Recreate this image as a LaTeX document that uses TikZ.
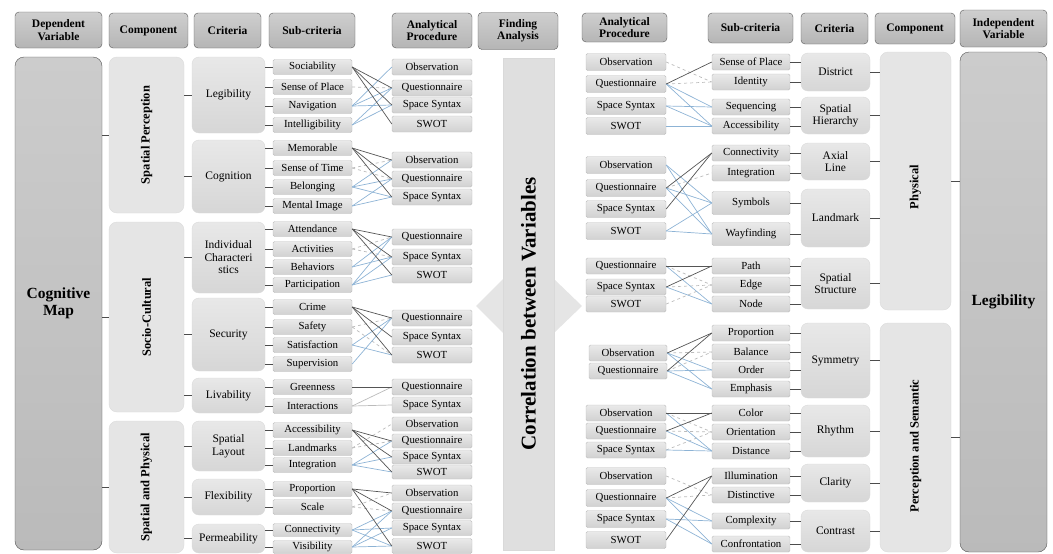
\documentclass[tikz,border=0pt]{standalone}
\usepackage{fontspec}
\setmainfont{Liberation Serif}
\definecolor{lineblue}{HTML}{8DB3D5}
\definecolor{linedark}{HTML}{555555}
\definecolor{linegray}{HTML}{BBBBBB}
\tikzset{
  hdr/.style={draw=gray!70!black,rounded corners=4pt,top color=gray!38,bottom color=gray!58,
    align=center,inner sep=0pt,font=\bfseries\fontsize{11.5}{12.5}\selectfont},
  varbox/.style={draw=gray!65!black,rounded corners=9pt,top color=gray!40,bottom color=gray!54,
    inner sep=0pt,align=center,font=\bfseries\fontsize{15.5}{17}\selectfont},
  compbox/.style={draw=gray!28,rounded corners=8pt,fill=gray!20,inner sep=0pt},
  complab/.style={rotate=90,font=\bfseries\fontsize{12.5}{13}\selectfont},
  critbox/.style={draw=gray!30,rounded corners=7pt,top color=gray!18,bottom color=gray!32,
    inner sep=0pt,align=center,font=\fontsize{11.5}{12.5}\selectfont},
  subbox/.style={draw=gray!52,rounded corners=1.5pt,top color=gray!17,bottom color=gray!36,
    inner sep=0pt,font=\fontsize{10.8}{11}\selectfont},
  tree/.style={draw=gray!60!black,line width=0.6pt},
  dk/.style={draw=linedark,line width=0.7pt},
  bl/.style={draw=lineblue,line width=0.7pt},
  ds/.style={draw=linegray,line width=0.7pt,dashed},
  lg/.style={draw=linegray,line width=0.7pt}
}
\begin{document}
\begin{tikzpicture}[x=1pt,y=-1pt]
\useasboundingbox (0,0) rectangle (1053,554);
% headers
\node[hdr,minimum width=87pt,minimum height=36pt] (hDep) at (58.5,30) {Dependent\\Variable};
\node[hdr,minimum width=79pt,minimum height=35pt] (hCom) at (148.5,30.5) {Component};
\node[hdr,minimum width=67pt,minimum height=35pt] (hCri) at (227.5,30.5) {Criteria};
\node[hdr,minimum width=86pt,minimum height=35pt] (hSub) at (312,30.5) {Sub-criteria};
\node[hdr,minimum width=80pt,minimum height=35pt] (hAna) at (432,30.5) {Analytical\\Procedure};
\node[hdr,minimum width=80pt,minimum height=37pt] (hFin) at (518,31) {Finding\\Analysis};
\node[hdr,minimum width=85pt,minimum height=29pt] (hAnaR) at (624.5,27.5) {Analytical\\Procedure};
\node[hdr,minimum width=85pt,minimum height=30pt] (hSubR) at (750.5,28) {Sub-criteria};
\node[hdr,minimum width=67pt,minimum height=31pt] (hCriR) at (834.5,28.5) {Criteria};
\node[hdr,minimum width=80pt,minimum height=31pt] (hComR) at (915,28.5) {Component};
\node[hdr,minimum width=87pt,minimum height=37pt] (hInd) at (1003.5,28.5) {Independent\\Variable};

% centre: correlation
\fill[gray!20] (476,306) -- (503,279) -- (554,279) -- (582,306) -- (554,333) -- (503,333) -- cycle;
\node[draw=gray!30,fill=gray!25,minimum width=51pt,minimum height=492pt] (bCor) at (528.5,304) {};
\node[rotate=90,font=\bfseries\fontsize{21}{23}\selectfont] (tCor) at (528.5,314) {Correlation between Variables};

% dependent side
\node[varbox,minimum width=87pt,minimum height=493pt] (vCog) at (58.5,303.5) {Cognitive\\Map};
\node[compbox,minimum width=75pt,minimum height=156pt] (kSP) at (146.5,135) {};
\node[complab] (tSP) at (kSP) {Spatial Perception};
\node[compbox,minimum width=75pt,minimum height=190pt] (kSC) at (146.5,317) {};
\node[complab] (tSC) at (kSC) {Socio-Cultural};
\node[compbox,minimum width=75pt,minimum height=132pt] (kSPh) at (146.5,487) {};
\node[complab] (tSPh) at (kSPh) {Spatial and Physical};

\foreach \n/\y/\h/\t in {cLeg/95/76/Legibility, cCog/176.5/73/Cognition,
    cInd/257.5/71/{Individual\\Characteri\\stics}, cSec/334.5/73/Security,
    cLiv/395.5/35/Livability, cLay/446/50/{Spatial\\Layout},
    cFle/497/36/Flexibility, cPer/538.5/29/Permeability}
  \node[critbox,minimum width=73pt,minimum height=\h pt] (\n) at (228.5,\y) {\t};

\foreach \n/\y/\t in {lSoc/67/Sociability, lSoP/87/Sense of Place, lNav/106/Navigation,
    lInt/125/Intelligibility, lMem/148/Memorable, lSoT/168/Sense of Time,
    lBel/187/Belonging, lMen/206/Mental Image, lAtt/229/Attendance,
    lAct/249/Activities, lBeh/267/Behaviors, lPar/285/Participation,
    lCri/307/Crime, lSaf/327/Safety, lSat/345/Satisfaction, lSup/364/Supervision,
    lGre/387/Greenness, lInr/406/Interactions, lAcc/430/Accessibility,
    lLan/448/Landmarks, lItg/465/Integration, lPro/489/Proportion, lSca/507/Scale}
  \node[subbox,minimum width=79pt,minimum height=15pt] (\n) at (312.5,\y) {\t};
\node[subbox,minimum width=79pt,minimum height=13pt] (lCon) at (312.5,530) {Connectivity};
\node[subbox,minimum width=79pt,minimum height=13pt] (lVis) at (312.5,547) {Visibility};

\foreach \n/\y/\h/\t in {p1o/67/16/Observation, p1q/88/16/Questionnaire, p1s/105/16/Space Syntax,
    p1w/124/16/SWOT, p2o/160/16/Observation, p2q/179/16/Questionnaire, p2s/197/16/Space Syntax,
    p3q/237/16/Questionnaire, p3s/257/16/Space Syntax, p3w/275/16/SWOT,
    p4q/318/16/Questionnaire, p4s/337/16/Space Syntax, p4w/355/16/SWOT,
    p5q/387/16/Questionnaire, p5s/405/16/Space Syntax,
    p6o/424/14/Observation, p6q/441/14/Questionnaire, p6s/457/14/Space Syntax, p6w/472/14/SWOT,
    p7o/493/16/Observation, p7q/511/16/Questionnaire, p7s/528/15/Space Syntax, p7w/546/15/SWOT}
  \node[subbox,minimum width=80pt,minimum height=\h pt] (\n) at (432,\y) {\t};

% independent side
\node[varbox,minimum width=87pt,minimum height=500pt] (vLeg) at (1003.5,302) {Legibility};
\node[compbox,minimum width=71pt,minimum height=258pt] (kPhy) at (915.5,181) {};
\node[complab] (tPhy) at (915.5,187) {Physical};
\node[compbox,minimum width=71pt,minimum height=229pt] (kPer) at (915.5,437.5) {};
\node[complab] (tPer) at (915.5,446) {Perception and Semantic};

\foreach \n/\y/\h/\t in {dDis/72/38/District, dHie/115.5/37/{Spatial\\Hierarchy},
    dAxi/161.5/37/{Axial\\Line}, dLan/218/58/Landmark, dStr/283.5/51/{Spatial\\Structure},
    dSym/360.5/75/Symmetry, dRhy/431/52/Rhythm, dCla/483/38/Clarity, dCon/531/42/Contrast}
  \node[critbox,minimum width=69pt,minimum height=\h pt] (\n) at (835.5,\y) {\t};

\foreach \n/\y/\h/\t in {rSoP/62/16/Sense of Place, rIde/82/16/Identity, rSeq/107/16/Sequencing,
    rAcc/126/16/Accessibility, rCon/153/16/Connectivity, rItg/173/16/Integration,
    rSym/203/23/Symbols, rWay/234/23/Wayfinding, rPat/266/16/Path, rEdg/285/16/Edge,
    rNod/304/16/Node, rPro/333/16/Proportion, rBal/352/16/Balance, rOrd/370/16/Order,
    rEmp/389/16/Emphasis, rCol/413/16/Color, rOri/432/16/Orientation, rDis/451/16/Distance,
    rIll/476/16/Illumination, rDst/495/16/Distinctive, rCom/521/16/Complexity,
    rCnf/544/16/Confrontation}
  \node[subbox,minimum width=78pt,minimum height=\h pt] (\n) at (751,\y) {\t};

\foreach \n/\y/\h/\t in {q1o/62/17/Observation, q1q/84/17/Questionnaire, q1s/106/17/Space Syntax,
    q1w/126/17/SWOT, q2o/165/17/Observation, q2q/188/17/Questionnaire, q2s/209/17/Space Syntax,
    q2w/231/17/SWOT, q3q/266/16/Questionnaire, q3s/287/16/Space Syntax, q3w/304/16/SWOT,
    q5o/413/16/Observation, q5q/431/16/Questionnaire, q5s/450/16/Space Syntax,
    q6o/476/17/Observation, q6q/498/17/Questionnaire, q6s/519/17/Space Syntax, q6w/540/17/SWOT}
  \node[subbox,minimum width=80pt,minimum height=\h pt] (\n) at (626,\y) {\t};
\node[subbox,minimum width=78pt,minimum height=16pt] (q4o) at (628,353) {Observation};
\node[subbox,minimum width=78pt,minimum height=16pt] (q4q) at (628,371) {Questionnaire};

% tree lines
\foreach \k in {kSP,kSC,kSPh} \draw[tree] (\k.west) -- (\k.west -| vCog.east);
\foreach \c/\k in {cLeg/kSP,cCog/kSP,cInd/kSC,cSec/kSC,cLiv/kSC,cLay/kSPh,cFle/kSPh,cPer/kSPh}
  \draw[tree] (\c.west) -- (\c.west -| \k.east);
\foreach \s/\c in {lSoc/cLeg,lSoP/cLeg,lNav/cLeg,lInt/cLeg,lMem/cCog,lSoT/cCog,lBel/cCog,lMen/cCog,
    lAtt/cInd,lAct/cInd,lBeh/cInd,lPar/cInd,lCri/cSec,lSaf/cSec,lSat/cSec,lSup/cSec,
    lGre/cLiv,lInr/cLiv,lAcc/cLay,lLan/cLay,lItg/cLay,lPro/cFle,lSca/cFle,lCon/cPer,lVis/cPer}
  \draw[tree] (\s.west) -- (\s.west -| \c.east);
\foreach \k in {kPhy,kPer} \draw[tree] (\k.east) -- (\k.east -| vLeg.west);
\foreach \c/\k in {dDis/kPhy,dHie/kPhy,dAxi/kPhy,dLan/kPhy,dStr/kPhy,dSym/kPer,dRhy/kPer,dCla/kPer,dCon/kPer}
  \draw[tree] (\c.east) -- (\c.east -| \k.west);
\foreach \s/\c in {rSoP/dDis,rIde/dDis,rSeq/dHie,rAcc/dHie,rCon/dAxi,rItg/dAxi,rSym/dLan,rWay/dLan,
    rPat/dStr,rEdg/dStr,rNod/dStr,rPro/dSym,rBal/dSym,rOrd/dSym,rEmp/dSym,rCol/dRhy,rOri/dRhy,
    rDis/dRhy,rIll/dCla,rDst/dCla,rCom/dCon,rCnf/dCon}
  \draw[tree] (\s.east) -- (\s.east -| \c.west);

% links, left
\foreach \a/\b in {lSoP/p1q,lSoT/p2o,lSoT/p2q,lAct/p3q,lAct/p3s,lSaf/p4q,lSaf/p4w,
    lLan/p6o,lLan/p6q,lSca/p7o,lSca/p7q}
  \draw[ds] (\a.east) -- (\b.west);
\foreach \a/\b in {lInr/p5q,lInr/p5s} \draw[lg] (\a.east) -- (\b.west);
\foreach \a/\b in {lNav/p1o,lNav/p1q,lNav/p1s,lInt/p1q,lInt/p1s,lBel/p2o,lBel/p2q,lBel/p2s,
    lMen/p2q,lMen/p2s,lBeh/p3q,lBeh/p3s,lPar/p3q,lPar/p3s,lPar/p3w,lSat/p4q,lSat/p4w,lSup/p4q,
    lItg/p6q,lItg/p6s,lItg/p6w,lCon/p7q,lCon/p7s,lCon/p7w,lVis/p7q,lVis/p7s,lVis/p7w}
  \draw[bl] (\a.east) -- (\b.west);
\foreach \a/\b in {lSoc/p1q,lSoc/p1s,lSoc/p1w,lMem/p2o,lMem/p2q,lMem/p2s,lAtt/p3q,lAtt/p3s,
    lAtt/p3w,lCri/p4q,lCri/p4s,lCri/p4w,lGre/p5q,lAcc/p6q,lAcc/p6s,lAcc/p6w,lPro/p7o,lPro/p7q,lPro/p7w}
  \draw[dk] (\a.east) -- (\b.west);

% links, right
\foreach \a/\b in {q1o/rIde,q1q/rIde,q2q/rItg,q3q/rEdg,q3s/rEdg,q3w/rEdg,q4o/rBal,q4q/rBal,
    q5o/rOri,q5q/rOri,q5s/rOri,q6o/rDst,q6q/rDst}
  \draw[ds] (\a.east) -- (\b.west);
\foreach \a/\b in {q1q/rSeq,q1q/rAcc,q1s/rSeq,q1s/rAcc,q1w/rAcc,q2o/rSym,q2o/rWay,q2q/rSym,
    q2q/rWay,q2w/rSym,q2w/rWay,q3q/rNod,q3s/rNod,q4o/rOrd,q4o/rEmp,q4q/rOrd,q4q/rEmp,
    q5o/rDis,q5q/rDis,q5s/rDis,q6q/rCom,q6q/rCnf,q6s/rCom,q6s/rCnf}
  \draw[bl] (\a.east) -- (\b.west);
\foreach \a/\b in {q1q/rSoP,q2q/rCon,q2s/rCon,q3q/rPat,q3s/rPat,q4o/rPro,q4q/rPro,
    q5o/rCol,q5q/rCol,q6q/rIll,q6w/rIll}
  \draw[dk] (\a.east) -- (\b.west);
\end{tikzpicture}
\end{document}
